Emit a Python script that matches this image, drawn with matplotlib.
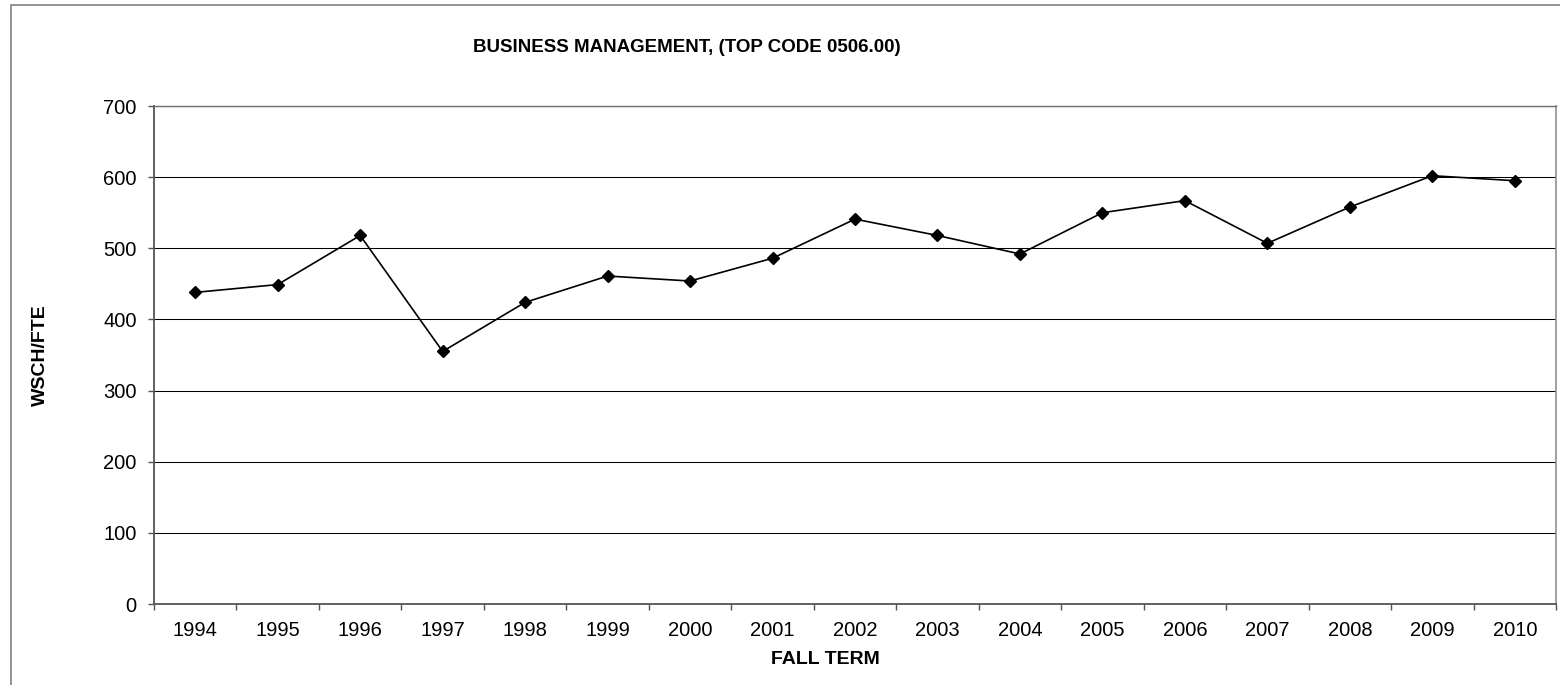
import numpy as np
import matplotlib
matplotlib.use("Agg")
import matplotlib.pyplot as plt
from matplotlib import font_manager
from matplotlib.patches import Rectangle

# Data
years = ["1994", "1995", "1996", "1997", "1998", "1999", "2000", "2001", "2002",
         "2003", "2004", "2005", "2006", "2007", "2008", "2009", "2010"]
wsch_fte = [438, 449, 518, 355, 424, 461, 454, 486, 541,
            518, 492, 550, 567, 507, 558, 602, 595]
y_ticks = [0, 100, 200, 300, 400, 500, 600, 700]

title_text = "BUSINESS MANAGEMENT, (TOP CODE 0506.00)"
x_label = "FALL TERM"
y_label = "WSCH/FTE"

# Fonts: narrow face for the title if there is one
names = {f.name for f in font_manager.fontManager.ttflist}
narrow = "Liberation Sans Narrow" in names
title_font = "Liberation Sans Narrow" if narrow else "Liberation Sans"
title_size = 16 if narrow else 13.5
plt.rcParams["font.family"] = ["Liberation Sans", "DejaVu Sans"]

W, H = 1560, 685
fig = plt.figure(figsize=(W / 100, H / 100), dpi=100)

# outer chart frame (cut off at right and bottom)
fig.patches.append(Rectangle((11 / W, -0.05), 1.2, 1 - 5 / H + 0.05,
                             transform=fig.transFigure, fill=False,
                             edgecolor="#808080", linewidth=1.2))

left, right, bottom, top = 154, 1556, 604, 106
ax = fig.add_axes([left / W, 1 - bottom / H, (right - left) / W, (bottom - top) / H])

x = np.arange(len(years))
ax.plot(x, wsch_fte, color="black", linewidth=1.2, marker="D",
        markersize=6.5, markerfacecolor="black", markeredgecolor="black", zorder=3)

ax.set_xlim(-0.5, len(years) - 0.5)
ax.set_ylim(0, 700)

# y axis
ax.set_yticks(y_ticks)
ax.yaxis.grid(True, color="black", linewidth=0.75)
ax.set_axisbelow(True)
ax.tick_params(axis="y", direction="out", length=4.5, width=1, color="#555555",
               labelsize=14.5, pad=8)

# x axis: ticks between categories, labels at centres
ax.set_xticks(np.arange(-0.5, len(years), 1))
ax.set_xticklabels([])
ax.set_xticks(x, minor=True)
ax.set_xticklabels(years, minor=True)
ax.tick_params(axis="x", which="major", direction="out", length=4.5, width=1, color="#555555")
ax.tick_params(axis="x", which="minor", length=0, labelsize=14.5, pad=12)

for side in ["left", "bottom"]:
    ax.spines[side].set_color("#555555")
    ax.spines[side].set_linewidth(1.3)
ax.spines["right"].set_color("#909090")
ax.spines["right"].set_linewidth(1.2)
ax.spines["top"].set_color("#707070")
ax.spines["top"].set_linewidth(1.0)

# texts
fig.text(687 / W, 1 - 48 / H, title_text, ha="center", va="center",
         fontsize=title_size, fontweight="bold", family=[title_font, "DejaVu Sans"])
fig.text(825 / W, 1 - 660 / H, x_label, ha="center", va="center",
         fontsize=14, fontweight="bold")
fig.text(40 / W, 1 - 355 / H, y_label, ha="center", va="center",
         fontsize=14, fontweight="bold", rotation=90)

fig.savefig("out.png", dpi=100)
